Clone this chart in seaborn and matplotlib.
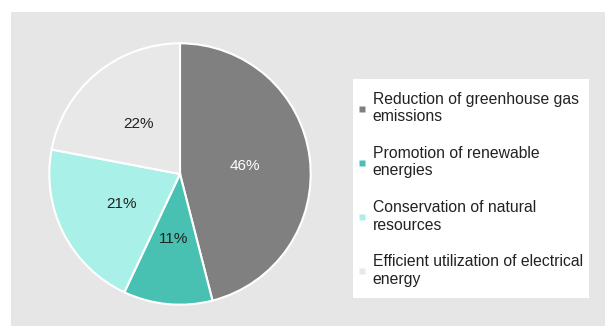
import matplotlib
matplotlib.use("Agg")
import matplotlib.pyplot as plt
import seaborn as sns
from matplotlib.patches import Rectangle
from matplotlib.lines import Line2D

categories = ["Reduction of greenhouse gas\nemissions",
              "Promotion of renewable\nenergies",
              "Conservation of natural\nresources",
              "Efficient utilization of electrical\nenergy"]
values = [46, 11, 21, 22]
colors = ["#808080", "#48c1b3", "#a8f0e8", "#e8e8e8"]
label_colors = ["white", "#222222", "#222222", "#222222"]

sns.set_theme(style="white")
plt.rcParams['font.family'] = ['Liberation Sans', 'DejaVu Sans']

W, H = 605, 326
fig = plt.figure(figsize=(W / 100, H / 100), dpi=100)
fig.patch.set_facecolor("white")
fig.patches.append(Rectangle((11 / W, 0), 1 - 11 / W, (H - 12) / H,
                             transform=fig.transFigure, facecolor="#e6e6e6",
                             edgecolor="none", zorder=-10))
# legend box
fig.patches.append(Rectangle((353 / W, (H - 298) / H), (589 - 353) / W, (298 - 79) / H,
                             transform=fig.transFigure, facecolor="white",
                             edgecolor="none", zorder=-5))

cx, cy, r = 180, 174, 132
ax = fig.add_axes([(cx - r) / W, (H - cy - r) / H, 2 * r / W, 2 * r / H])
ax.set_facecolor("none")
wedges, texts, autotexts = ax.pie(values, colors=colors, startangle=90, counterclock=False,
                                  autopct="%d%%", pctdistance=0.5, radius=1,
                                  wedgeprops=dict(edgecolor="white", linewidth=1.5),
                                  textprops=dict(fontsize=11))
for t, c in zip(autotexts, label_colors):
    t.set_color(c)
ax.set_xlim(-1.01, 1.01)
ax.set_ylim(-1.01, 1.01)
ax.set_aspect("equal")
ax.axis("off")

handles = [Line2D([], [], marker="s", linestyle="none", markersize=4,
                  markerfacecolor=c, markeredgecolor="none") for c in colors]
leg = fig.legend(handles, categories, loc="upper left",
                 bbox_to_anchor=(357 / W, (H - 92) / H), frameon=False,
                 fontsize=11.3, labelspacing=1.38, handlelength=0.6, handletextpad=0.4,
                 borderaxespad=0, borderpad=0)
for t in leg.get_texts():
    t.set_color("#222222")

fig.savefig("out.png", dpi=100)
